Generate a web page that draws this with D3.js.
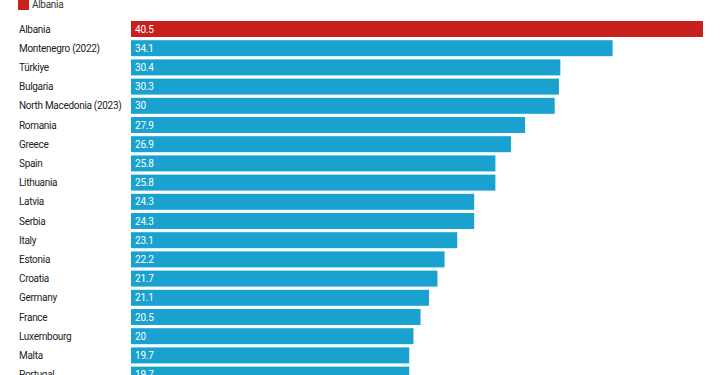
<!DOCTYPE html>
<html>
<head>
<meta charset="utf-8">
<script src="https://cdn.jsdelivr.net/npm/d3@7"></script>
<style>
  body { margin: 0; background: #fff; }
  svg { display: block; font-family: Roboto, sans-serif; }
</style>
</head>
<body>
<div id="chart"></div>
<script>
// data
var countries = ["Albania", "Montenegro (2022)", "Türkiye", "Bulgaria", "North Macedonia (2023)",
  "Romania", "Greece", "Spain", "Lithuania", "Latvia", "Serbia", "Italy", "Estonia",
  "Croatia", "Germany", "France", "Luxembourg", "Malta", "Portugal"];
var values = [40.5, 34.1, 30.4, 30.3, 30, 27.9, 26.9, 25.8, 25.8, 24.3, 24.3, 23.1, 22.2,
  21.7, 21.1, 20.5, 20, 19.7, 19.7];
var highlight = "Albania";

var svg = d3.select("#chart")
    .append("svg")
    .attr("width", 720)
    .attr("height", 375);

var xScale = d3.scaleLinear().domain([0, 40.5]).range([131, 703]);
var yScale = d3.scaleBand().domain(countries)
    .range([21 - 1.6, 21 - 1.6 + 19.2 * countries.length])
    .paddingInner(3.2 / 19.2).paddingOuter(0.5 * 3.2 / 19.2);

// legend
svg.append("rect").attr("x", 18).attr("y", -1).attr("width", 11).attr("height", 11).style("fill", "#c91f1f");
svg.append("text").attr("x", 32).attr("y", 8).text(highlight)
    .style("font-size", "10px").style("letter-spacing", "-0.3px").style("fill", "#333");

var rows = svg.append("g").selectAll("g")
    .data(countries)
    .enter()
    .append("g");

rows.append("text")
    .attr("x", 19)
    .attr("y", function(d) { return yScale(d) + yScale.bandwidth() / 2; })
    .attr("dy", "0.36em")
    .style("font-size", "10px")
    .style("letter-spacing", "-0.3px")
    .style("fill", "#222")
    .text(function(d) { return d; });

rows.append("rect")
    .attr("x", xScale(0))
    .attr("y", function(d) { return yScale(d); })
    .attr("height", yScale.bandwidth())
    .attr("width", function(d, i) { return xScale(values[i]) - xScale(0); })
    .style("fill", function(d) { return d == highlight ? "#c91f1f" : "#19a2cf"; });

rows.append("text")
    .attr("x", xScale(0) + 4)
    .attr("y", function(d) { return yScale(d) + yScale.bandwidth() / 2; })
    .attr("dy", "0.36em")
    .style("font-size", "10px")
    .style("letter-spacing", "-0.2px")
    .style("fill", "#fff")
    .text(function(d, i) { return values[i]; });
</script>
</body>
</html>
